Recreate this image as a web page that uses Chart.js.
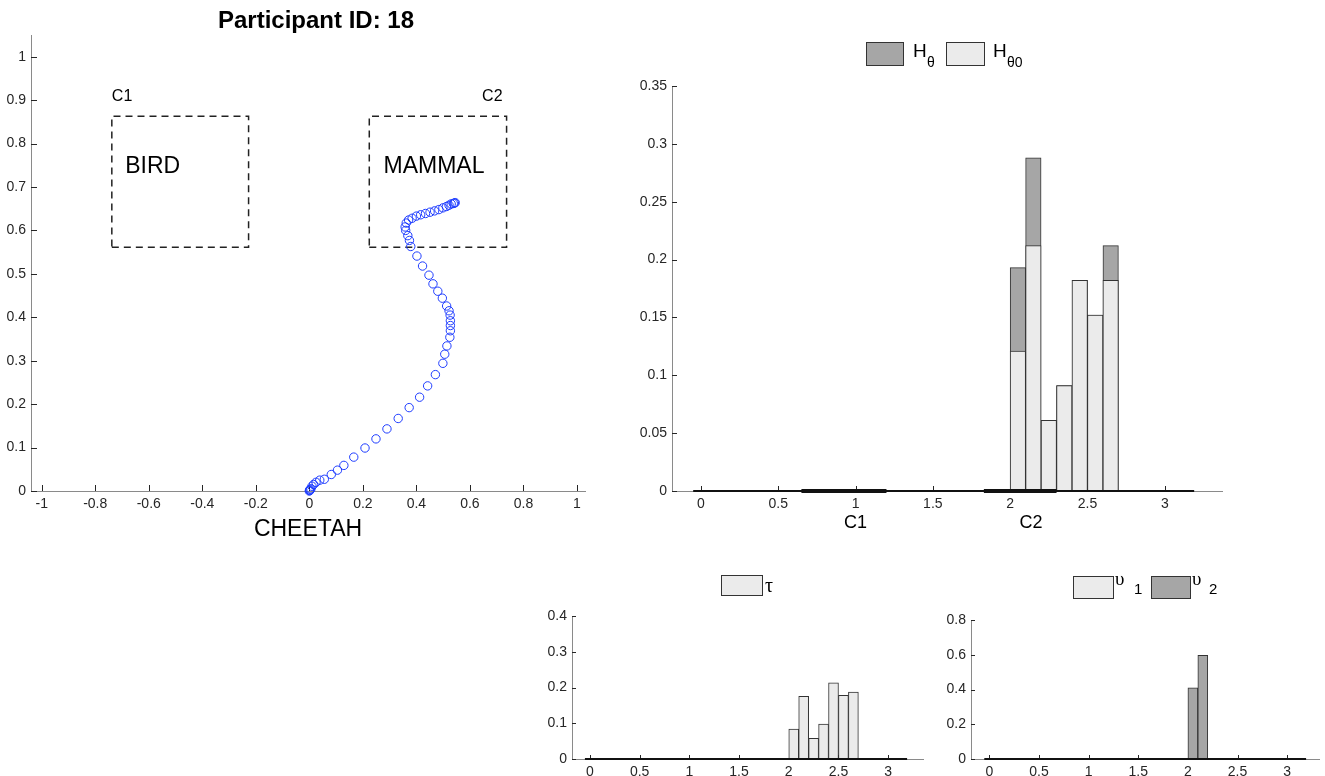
<!DOCTYPE html>
<html>
<head>
<meta charset="utf-8">
<script src="https://cdn.jsdelivr.net/npm/chart.js@4.4.1/dist/chart.umd.min.js"></script>
<style>
  body { margin: 0; background: #fff; width: 1325px; height: 776px; overflow: hidden; position: relative; }
  canvas { position: absolute; }
</style>
</head>
<body>
<canvas id="trajChart" width="628" height="545" style="left:0;top:0"></canvas>
<canvas id="histChart" width="640" height="545" style="left:600px;top:0"></canvas>
<canvas id="tauChart" width="410" height="216" style="left:520px;top:560px"></canvas>
<canvas id="upsChart" width="405" height="216" style="left:920px;top:560px"></canvas>
<script>
// mouse trajectory (normalised screen units)
const trajX = [0, 0.001, 0.002, 0.003, 0.006, 0.01, 0.016, 0.025, 0.039, 0.056, 0.082, 0.105, 0.129, 0.166, 0.208, 0.249, 0.29, 0.332, 0.373, 0.412, 0.442, 0.471, 0.499, 0.506, 0.514, 0.525, 0.527, 0.527, 0.527, 0.526, 0.522, 0.513, 0.497, 0.48, 0.462, 0.447, 0.423, 0.402, 0.379, 0.374, 0.368, 0.36, 0.358, 0.362, 0.371, 0.384, 0.4, 0.416, 0.434, 0.451, 0.468, 0.484, 0.499, 0.512, 0.522, 0.53, 0.538, 0.542, 0.545];
const trajY = [0, 0.001, 0.002, 0.004, 0.005, 0.011, 0.015, 0.02, 0.025, 0.027, 0.038, 0.048, 0.059, 0.078, 0.099, 0.12, 0.143, 0.167, 0.192, 0.216, 0.242, 0.268, 0.294, 0.315, 0.334, 0.354, 0.369, 0.381, 0.392, 0.405, 0.415, 0.426, 0.444, 0.46, 0.477, 0.497, 0.518, 0.541, 0.563, 0.577, 0.588, 0.6, 0.608, 0.617, 0.624, 0.628, 0.633, 0.636, 0.639, 0.642, 0.645, 0.648, 0.652, 0.655, 0.658, 0.661, 0.662, 0.663, 0.664];

// response boxes
const boxC1X = [-0.738, -0.227];
const boxC2X = [0.224, 0.737];
const boxY = [0.561, 0.863];

// histograms over angle
const binCenters = [2.05, 2.15, 2.25, 2.35, 2.45, 2.55, 2.65];
const hTheta = [0.193, 0.288, 0.061, 0.091, 0.182, 0.152, 0.212];
const hTheta0 = [0.121, 0.212, 0.061, 0.091, 0.182, 0.152, 0.182];
const tau = [0.084, 0.175, 0.058, 0.098, 0.213, 0.178, 0.187];
const upsBins = [2.05, 2.15];
const ups1 = [0, 0];
const ups2 = [0.41, 0.597];
const angleRange = [-0.05, 3.19];
const c1Range = [0.65, 1.2];
const c2Range = [1.83, 2.3];

const LIGHT = 'rgb(235,235,235)';
const DARK = 'rgb(166,166,166)';
const EDGE = '#333';
const AXIS = '#8a8a8a';

Chart.defaults.font.family = '"Liberation Sans", Arial, sans-serif';
Chart.defaults.color = '#262626';

// matlab style ticks pointing into the plot
const innerTicks = {
    id: 'innerTicks',
    beforeDatasetsDraw(chart, args, opts) {
        const {ctx, chartArea, scales} = chart;
        const len = opts.len || 5;
        ctx.save();
        ctx.strokeStyle = '#262626';
        ctx.lineWidth = 1;
        ctx.beginPath();
        scales.x.ticks.forEach(t => {
            const px = Math.round(scales.x.getPixelForValue(t.value)) + 0.5;
            ctx.moveTo(px, chartArea.bottom);
            ctx.lineTo(px, chartArea.bottom - len);
        });
        scales.y.ticks.forEach(t => {
            const py = Math.round(scales.y.getPixelForValue(t.value)) + 0.5;
            ctx.moveTo(chartArea.left, py);
            ctx.lineTo(chartArea.left + len, py);
        });
        ctx.stroke();
        ctx.restore();
    }
};

// free text and legend boxes
const notes = {
    id: 'notes',
    afterDraw(chart, args, opts) {
        const ctx = chart.ctx;
        ctx.save();
        (opts.boxes || []).forEach(b => {
            ctx.fillStyle = b.fill;
            ctx.fillRect(b.x, b.y, b.w, b.h);
            ctx.strokeStyle = EDGE;
            ctx.lineWidth = 1;
            ctx.strokeRect(b.x + 0.5, b.y + 0.5, b.w, b.h);
        });
        (opts.texts || []).forEach(t => {
            const px = t.dataX !== undefined ? chart.scales.x.getPixelForValue(t.dataX) : t.x;
            const py = t.dataY !== undefined ? chart.scales.y.getPixelForValue(t.dataY) : t.y;
            ctx.font = t.font;
            ctx.fillStyle = '#000';
            ctx.textAlign = t.align || 'left';
            ctx.textBaseline = t.baseline || 'alphabetic';
            ctx.fillText(t.text, px, py);
        });
        ctx.restore();
    }
};

Chart.register(innerTicks, notes);

function fmt(v) {
    return String(Math.round(v * 100) / 100);
}

function boxPoints(xs, ys) {
    return [
        {x: xs[0], y: ys[0]}, {x: xs[1], y: ys[0]}, {x: xs[1], y: ys[1]},
        {x: xs[0], y: ys[1]}, {x: xs[0], y: ys[0]}
    ];
}

function segment(range, width) {
    return {
        type: 'line',
        data: [{x: range[0], y: 0}, {x: range[1], y: 0}],
        borderColor: '#111',
        borderWidth: width,
        pointRadius: 0,
        clip: false,
        order: -1
    };
}

function axisOpts(min, max, step, size, fitW, fitH, isX) {
    return {
        type: 'linear',
        min: min,
        max: max,
        offset: false,
        grid: {display: false, drawTicks: false, offset: false},
        border: {display: true, color: AXIS, width: 1},
        ticks: {
            stepSize: step,
            includeBounds: false,
            padding: isX ? 5 : 5,
            maxRotation: 0,
            autoSkip: false,
            font: {size: size},
            callback: fmt
        },
        afterFit(scale) {
            if (isX) scale.height = fitH; else scale.width = fitW;
        }
    };
}

// ---- trajectory
new Chart(document.getElementById('trajChart'), {
    type: 'scatter',
    data: {
        datasets: [{
            label: 'trajectory',
            data: trajX.map((x, i) => ({x: x, y: trajY[i]})),
            pointStyle: 'circle',
            pointRadius: 4.2,
            borderColor: 'rgb(30,60,255)',
            backgroundColor: 'rgba(0,0,0,0)',
            borderWidth: 1,
            clip: false
        }, {
            label: 'C1',
            data: boxPoints(boxC1X, boxY),
            showLine: true,
            borderColor: '#222',
            borderWidth: 1.5,
            borderDash: [7, 5],
            pointRadius: 0
        }, {
            label: 'C2',
            data: boxPoints(boxC2X, boxY),
            showLine: true,
            borderColor: '#222',
            borderWidth: 1.5,
            borderDash: [7, 5],
            pointRadius: 0
        }]
    },
    options: {
        responsive: false,
        animation: false,
        layout: {padding: {top: 35, right: 43, left: 0, bottom: 0}},
        plugins: {
            legend: {display: false},
            tooltip: {enabled: false},
            innerTicks: {len: 6},
            notes: {
                texts: [
                    {text: 'Participant ID: 18', x: 316, y: 28, font: 'bold 24px "Liberation Sans", Arial', align: 'center'},
                    {text: 'C1', dataX: -0.738, dataY: 0.898, font: '16px "Liberation Sans", Arial'},
                    {text: 'C2', dataX: 0.722, dataY: 0.898, font: '16px "Liberation Sans", Arial', align: 'right'},
                    {text: 'BIRD', dataX: -0.688, dataY: 0.732, font: '23px "Liberation Sans", Arial'},
                    {text: 'MAMMAL', dataX: 0.277, dataY: 0.732, font: '23px "Liberation Sans", Arial'}
                ]
            }
        },
        scales: {
            x: Object.assign(axisOpts(-1.04, 1.03, 0.2, 14, 0, 54, true), {
                title: {display: true, text: 'CHEETAH', color: '#000', font: {size: 23}, padding: {top: 0, bottom: 2}}
            }),
            y: axisOpts(0, 1.05, 0.1, 14, 31, 0, false)
        }
    }
});

// ---- H_theta / H_theta0
new Chart(document.getElementById('histChart'), {
    type: 'bar',
    data: {
        datasets: [{
            label: 'Hθ0',
            data: binCenters.map((x, i) => ({x: x, y: hTheta0[i]})),
            backgroundColor: LIGHT,
            borderColor: EDGE,
            borderWidth: 1,
            borderSkipped: false,
            barPercentage: 1,
            categoryPercentage: 1,
            grouped: false,
            order: 0
        }, {
            label: 'Hθ',
            data: binCenters.map((x, i) => ({x: x, y: hTheta[i]})),
            backgroundColor: DARK,
            borderColor: EDGE,
            borderWidth: 1,
            borderSkipped: false,
            barPercentage: 1,
            categoryPercentage: 1,
            grouped: false,
            order: 1
        },
        segment(angleRange, 2),
        segment(c1Range, 4),
        segment(c2Range, 4)]
    },
    options: {
        responsive: false,
        animation: false,
        layout: {padding: {top: 86, right: 18, left: 0, bottom: 0}},
        plugins: {
            legend: {display: false},
            tooltip: {enabled: false},
            innerTicks: {len: 5},
            notes: {
                boxes: [
                    {x: 266, y: 42, w: 37, h: 23, fill: DARK},
                    {x: 346, y: 42, w: 38, h: 23, fill: LIGHT}
                ],
                texts: [
                    {text: 'H', x: 313, y: 57, font: '19px "Liberation Sans", Arial'},
                    {text: 'θ', x: 327, y: 67, font: '14px "Liberation Sans", Arial'},
                    {text: 'H', x: 393, y: 57, font: '19px "Liberation Sans", Arial'},
                    {text: 'θ0', x: 407, y: 67, font: '14px "Liberation Sans", Arial'},
                    {text: 'C1', dataX: 1.0, y: 523, font: '18px "Liberation Sans", Arial', align: 'center', baseline: 'middle'},
                    {text: 'C2', dataX: 2.135, y: 523, font: '18px "Liberation Sans", Arial', align: 'center', baseline: 'middle'}
                ]
            }
        },
        scales: {
            x: axisOpts(-0.187, 3.37, 0.5, 14, 0, 54, true),
            y: axisOpts(0, 0.35, 0.05, 14, 72, 0, false)
        }
    }
});

// ---- tau
new Chart(document.getElementById('tauChart'), {
    type: 'bar',
    data: {
        datasets: [{
            label: 'τ',
            data: binCenters.map((x, i) => ({x: x, y: tau[i]})),
            backgroundColor: LIGHT,
            borderColor: EDGE,
            borderWidth: 1,
            borderSkipped: false,
            barPercentage: 1,
            categoryPercentage: 1
        },
        segment(angleRange, 2)]
    },
    options: {
        responsive: false,
        animation: false,
        layout: {padding: {top: 56, right: 7, left: 0, bottom: 0}},
        plugins: {
            legend: {display: false},
            tooltip: {enabled: false},
            innerTicks: {len: 4},
            notes: {
                boxes: [{x: 201, y: 15, w: 41, h: 20, fill: LIGHT}],
                texts: [{text: 'τ', x: 245, y: 32, font: '20px "Liberation Serif", serif'}]
            }
        },
        scales: {
            x: axisOpts(-0.18, 3.35, 0.5, 14, 0, 17, true),
            y: axisOpts(0, 0.4, 0.1, 14, 52, 0, false)
        }
    }
});

// ---- upsilon
new Chart(document.getElementById('upsChart'), {
    type: 'bar',
    data: {
        datasets: [{
            label: 'υ1',
            data: upsBins.map((x, i) => ({x: x, y: ups1[i]})),
            backgroundColor: LIGHT,
            borderColor: EDGE,
            borderWidth: 1,
            borderSkipped: false,
            barPercentage: 1,
            categoryPercentage: 1,
            grouped: false
        }, {
            label: 'υ2',
            data: upsBins.map((x, i) => ({x: x, y: ups2[i]})),
            backgroundColor: DARK,
            borderColor: EDGE,
            borderWidth: 1,
            borderSkipped: false,
            barPercentage: 1,
            categoryPercentage: 1,
            grouped: false
        },
        segment(angleRange, 2)]
    },
    options: {
        responsive: false,
        animation: false,
        layout: {padding: {top: 60, right: 6, left: 0, bottom: 0}},
        plugins: {
            legend: {display: false},
            tooltip: {enabled: false},
            innerTicks: {len: 4},
            notes: {
                boxes: [
                    {x: 153, y: 16, w: 40, h: 22, fill: LIGHT},
                    {x: 231, y: 16, w: 39, h: 22, fill: DARK}
                ],
                texts: [
                    {text: 'υ', x: 195, y: 25, font: '19px "Liberation Serif", serif'},
                    {text: '1', x: 214, y: 34, font: '15px "Liberation Sans", Arial'},
                    {text: 'υ', x: 272, y: 25, font: '19px "Liberation Serif", serif'},
                    {text: '2', x: 289, y: 34, font: '15px "Liberation Sans", Arial'}
                ]
            }
        },
        scales: {
            x: axisOpts(-0.184, 3.32, 0.5, 14, 0, 17, true),
            y: axisOpts(0, 0.8, 0.2, 14, 51, 0, false)
        }
    }
});
</script>
</body>
</html>
